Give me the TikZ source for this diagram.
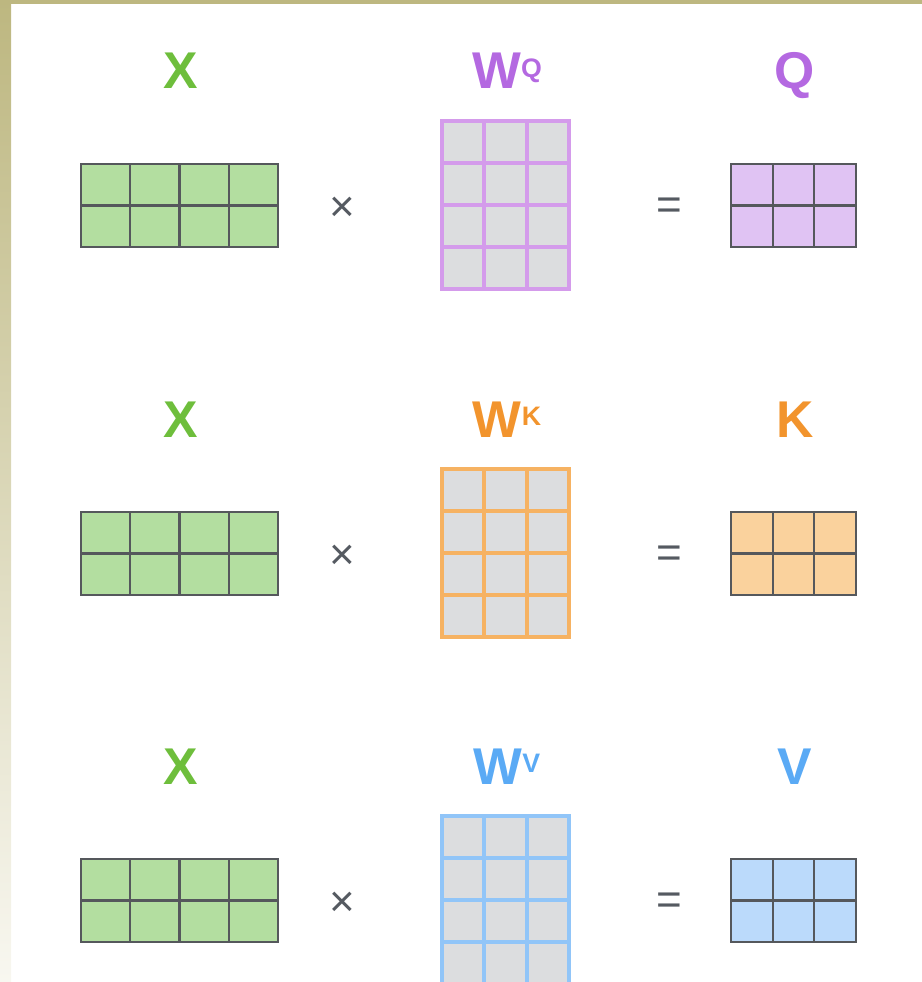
\documentclass[tikz,border=0pt]{standalone}
\usepackage{fontspec}
\setmainfont{Liberation Sans}
\usepackage{tikz}
\definecolor{cFrame}{RGB}{189,183,128}
\definecolor{cFrameLow}{RGB}{248,247,240}
\definecolor{cGrid}{RGB}{85,88,92}
\definecolor{cOp}{RGB}{85,90,97}
\definecolor{cXtext}{RGB}{110,190,60}
\definecolor{cXfill}{RGB}{179,222,160}
\definecolor{cWfill}{RGB}{220,221,223}
\definecolor{cQtext}{RGB}{180,105,225}
\definecolor{cQline}{RGB}{212,155,235}
\definecolor{cQfill}{RGB}{224,195,243}
\definecolor{cKtext}{RGB}{242,148,45}
\definecolor{cKline}{RGB}{246,178,98}
\definecolor{cKfill}{RGB}{250,210,157}
\definecolor{cVtext}{RGB}{90,170,245}
\definecolor{cVline}{RGB}{145,197,248}
\definecolor{cVfill}{RGB}{187,218,251}
\tikzset{
  lbl/.style={anchor=base,inner sep=0pt,font=\fontsize{14.7}{16}\selectfont\bfseries},
  op/.style={text=cOp,inner sep=0pt,font=\fontsize{12.5}{14}\selectfont},
  xcell/.style={fill=cXfill,draw=cGrid,line width=0.6pt},
  wcell/.style={line width=1.1pt},
}

\begin{document}
\begin{tikzpicture}[x=0.01cm,y=-0.01cm]
\useasboundingbox (0,0) rectangle (922,982);
\clip (0,0) rectangle (922,982);
% frame
\shade[top color=cFrame,bottom color=cFrameLow] (0,0) rectangle (11,982);
\fill[cFrame] (0,0) rectangle (922,4);
% one row per projection
\foreach \dy/\nm/\cT/\cL/\cF in {0/Q/cQtext/cQline/cQfill,348/K/cKtext/cKline/cKfill,695/V/cVtext/cVline/cVfill}{
  \node[lbl,text=cXtext] (lblX\nm) at (181,89+\dy) {X};
  \node[lbl,text=\cT] (lblW\nm) at (507,89+\dy) {W\raisebox{0.22em}{\fontsize{7.6}{9}\selectfont\bfseries\nm}};
  \node[lbl,text=\cT] (lbl\nm) at (795,89+\dy) {\nm};
  % X
  \foreach \i in {0,...,3}
    \foreach \j in {0,1}
      \draw[xcell] ({81+49.25*\i},{164+\dy+41.5*\j}) rectangle +(49.25,41.5);
  \node[op] (times\nm) at (342,209+\dy) {×};
  % W
  \fill[cWfill] (442,121+\dy) rectangle (569,289+\dy);
  \foreach \i in {0,1,2}
    \foreach \j in {0,...,3}
      \draw[wcell,draw=\cL] ({442+42.33*\i},{121+\dy+42*\j}) rectangle +(42.33,42);
  \node[op] (eq\nm) at (669,209+\dy) {=};
  % result
  \foreach \i in {0,1,2}
    \foreach \j in {0,1}
      \draw[xcell,fill=\cF] ({731+41.67*\i},{164+\dy+41.5*\j}) rectangle +(41.67,41.5);
}
\end{tikzpicture}
\end{document}
